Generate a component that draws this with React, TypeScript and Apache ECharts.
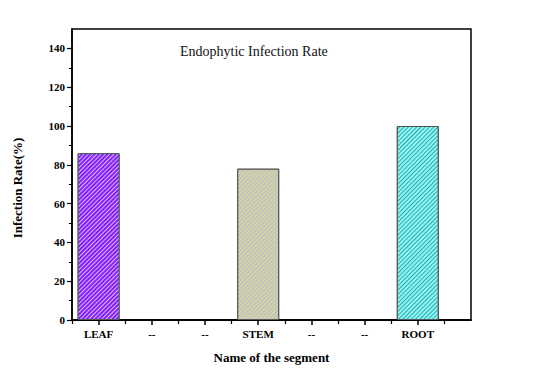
import React, { useEffect, useRef } from "react";
import * as echarts from "echarts";

const categories = ["LEAF", "--", "--", "STEM", "--", "--", "ROOT"];
const values: (number | null)[] = [86, null, null, 78, null, null, 100];
const fillColors = ["#8420ff", "", "", "#c2c2c2", "", "", "#84fafa"];
const hatchColors = ["rgba(225,200,255,0.9)", "", "", "rgba(230,230,130,0.75)", "", "", "rgba(50,140,140,0.8)"];
const yTicks = [0, 20, 40, 60, 80, 100, 120, 140];

const serif = "'Liberation Serif', 'Times New Roman', serif";

export default function App() {
  const ref = useRef<HTMLDivElement>(null);
  useEffect(() => {
    if (!ref.current) return;
    const chart = echarts.init(ref.current, null, { renderer: "svg" });
    const majorX = categories.map((_, i) => i + 1);
    const minorX = [...categories.map((_, i) => i + 0.5), categories.length + 0.5];
    const data = values
      .map((v, i) =>
        v == null
          ? null
          : {
              value: [i + 1, v],
              itemStyle: {
                color: fillColors[i],
                borderColor: "#555",
                borderWidth: 1,
                decal: {
                  symbol: "rect",
                  symbolSize: 1,
                  dashArrayX: [1, 0],
                  dashArrayY: [1, 1.8],
                  rotation: -Math.PI / 4,
                  color: hatchColors[i],
                },
              },
            }
      )
      .filter((d) => d != null);
    chart.setOption({
      animation: false,
      backgroundColor: "#fff",
      grid: {
        left: 72,
        right: 77,
        top: 29,
        bottom: 66,
        show: true,
        borderColor: "#000",
        borderWidth: 1.5,
      },
      graphic: [
        {
          type: "text",
          left: 180,
          top: 44,
          style: {
            text: "Endophytic Infection Rate",
            font: `14px ${serif}`,
            fill: "#111",
          },
        },
        {
          type: "text",
          x: 17,
          y: 188,
          rotation: Math.PI / 2,
          style: {
            text: "Infection Rate(%)",
            font: `bold 13px ${serif}`,
            fill: "#000",
            align: "center",
            verticalAlign: "middle",
          },
        },
      ],
      xAxis: [
        {
          type: "value",
          min: 0.5,
          max: 8,
          name: "Name of the segment",
          nameLocation: "middle",
          nameGap: 31,
          nameTextStyle: { fontFamily: serif, fontWeight: "bold", fontSize: 13, color: "#000" },
          axisLine: { show: true, onZero: false, lineStyle: { color: "#000", width: 1.5 } },
          axisTick: { show: true, inside: false, length: 5, customValues: majorX, lineStyle: { color: "#000", width: 1.5 } },
          axisLabel: {
            customValues: majorX,
            formatter: (v: number) => categories[Math.round(v) - 1] ?? "",
            fontFamily: serif,
            fontWeight: "bold",
            fontSize: 11,
            color: "#000",
            margin: 8,
          },
          splitLine: { show: false },
        },
        {
          type: "value",
          min: 0.5,
          max: 8,
          position: "bottom",
          axisLine: { show: true, onZero: false, lineStyle: { color: "#000", width: 1.5 } },
          axisTick: { show: true, inside: false, length: 4, customValues: minorX, lineStyle: { color: "#000", width: 1.2 } },
          axisLabel: { show: false },
          splitLine: { show: false },
        },
      ],
      yAxis: {
        type: "value",
        min: 0,
        max: 150,
        interval: 20,
        axisLine: { show: true, lineStyle: { color: "#000", width: 1.5 } },
        axisTick: { show: true, inside: false, length: 5, customValues: yTicks, lineStyle: { color: "#000", width: 1.2 } },
        minorTick: { show: true, splitNumber: 2, length: 3, lineStyle: { color: "#000", width: 1 } },
        axisLabel: {
          customValues: yTicks,
          fontFamily: serif,
          fontWeight: "bold",
          fontSize: 11,
          color: "#000",
          margin: 7,
        },
        splitLine: { show: false },
        minorSplitLine: { show: false },
      },
      series: [
        {
          type: "bar",
          xAxisIndex: 0,
          yAxisIndex: 0,
          barWidth: 42,
          data,
        },
      ],
    });
    return () => chart.dispose();
  }, []);
  return <div ref={ref} style={{ position: "absolute", left: 0, top: 0, width: 548, height: 386 }} />;
}
